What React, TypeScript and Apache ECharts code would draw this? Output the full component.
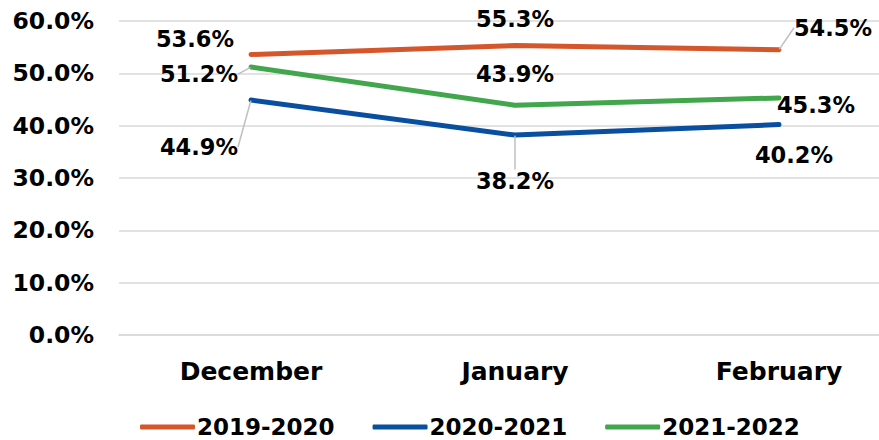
import React, { useEffect, useRef } from "react";
import * as echarts from "echarts";

const categories = ["December", "January", "February"];
const seriesNames = ["2019-2020", "2020-2021", "2021-2022"];
const values2019 = [53.6, 55.3, 54.5];
const values2020 = [44.9, 38.2, 40.2];
const values2021 = [51.2, 43.9, 45.3];
const yTicks = [0, 10, 20, 30, 40, 50, 60];

const colors = ["#D5562A", "#0A4E9F", "#41A64C"];
// label offsets (dx, dy) from each point, and whether a leader line shows
const labelOffsets = [
  [[-56, -15], [0, -27], [54, -22]],
  [[-52, 47], [0, 46], [15, 30]],
  [[-52, 7], [0, -31], [37, 7]],
];
const leaderShown = [
  [false, false, true],
  [true, true, false],
  [true, false, false],
];

const FONT = "DejaVu Sans";

export default function App() {
  const ref = useRef<HTMLDivElement>(null);
  useEffect(() => {
    document.body.style.margin = "0";
    const chart = echarts.init(ref.current!, null, { renderer: "svg" });
    const all = [values2019, values2020, values2021];
    chart.setOption({
      animation: false,
      textStyle: { fontFamily: FONT },
      grid: { left: 119, top: 21, bottom: 105, right: -32, containLabel: false, outerBoundsMode: "none" },
      legend: {
        top: 415,
        left: 140,
        padding: 0,
        itemGap: 38,
        itemWidth: 55,
        itemHeight: 5,
        icon: "roundRect",
        textStyle: { fontFamily: FONT, fontSize: 23, lineHeight: 24, fontWeight: "bold", color: "#000", padding: [0, 0, 0, -3] },
        data: seriesNames,
      },
      xAxis: {
        type: "category",
        data: categories,
        boundaryGap: true,
        axisLine: { show: true, lineStyle: { color: "#d9d9d9", width: 1.5 } },
        axisTick: { show: false },
        axisLabel: { fontFamily: FONT, fontSize: 25, fontWeight: "bold", color: "#000", margin: 24 },
      },
      yAxis: {
        type: "value",
        min: yTicks[0],
        max: yTicks[yTicks.length - 1],
        interval: 10,
        axisLine: { show: false },
        axisTick: { show: false },
        splitLine: { lineStyle: { color: "#d9d9d9", width: 1.5 } },
        axisLabel: {
          fontFamily: FONT,
          fontSize: 23.5,
          fontWeight: "bold",
          color: "#000",
          margin: 25,
          formatter: (v: number) => v.toFixed(1) + "%",
        },
      },
      series: all.map((vals, si) => ({
        name: seriesNames[si],
        type: "line",
        data: vals.map((v, di) => ({
          value: v,
          labelLine: { show: leaderShown[si][di] },
        })),
        color: colors[si],
        lineStyle: { width: 5, color: colors[si], cap: "round" },
        symbol: "circle",
        symbolSize: 1,
        itemStyle: { color: colors[si] },
        label: {
          show: true,
          position: "inside",
          fontFamily: FONT,
          fontSize: 22.5,
          fontWeight: "bold",
          color: "#000",
          formatter: (p: any) => p.value.toFixed(1) + "%",
        },
        labelLine: { show: true, lineStyle: { color: "#bfbfbf", width: 1.5 } },
        labelLayout: (p: any) => ({
          dx: labelOffsets[si][p.dataIndex][0],
          dy: labelOffsets[si][p.dataIndex][1],
        }),
        z: 3 - si,
      })),
    });
    return () => chart.dispose();
  }, []);
  return <div ref={ref} style={{ width: 879, height: 440 }} />;
}
